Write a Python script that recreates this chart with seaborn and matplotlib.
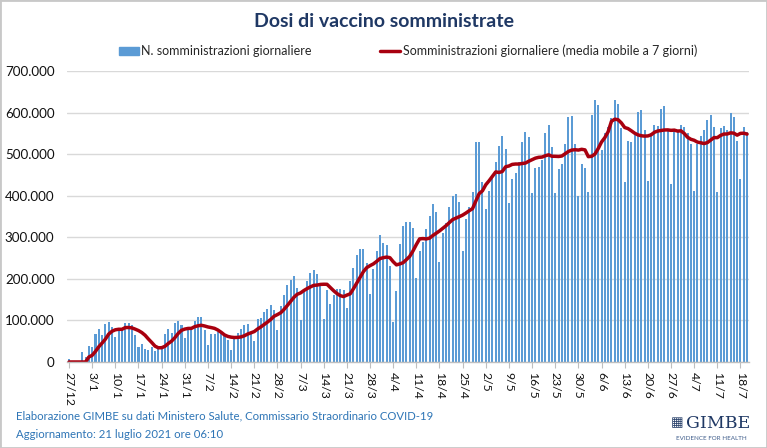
import matplotlib
matplotlib.use("Agg")
import matplotlib.pyplot as plt
import matplotlib.patches as mpatches
from matplotlib.lines import Line2D
import pandas as pd
import seaborn as sns

# dosi giornaliere in migliaia, dal 27/12/2020 al 20/7/2021 (una riga = una settimana, dom-sab)
dosi_migliaia = [
    7, 1, 1, 1, 25, 11, 38,
    35, 67, 79, 64, 91, 96, 85,
    60, 76, 78, 93, 93, 89, 64,
    36, 43, 32, 30, 35, 27, 36,
    37, 67, 79, 70, 93, 98, 89,
    58, 78, 80, 99, 107, 107, 77,
    42, 67, 67, 71, 69, 63, 52,
    29, 61, 69, 79, 88, 92, 73,
    50, 104, 105, 120, 128, 137, 126,
    78, 135, 161, 186, 197, 206, 177,
    101, 175, 194, 215, 222, 211, 188,
    104, 174, 139, 162, 175, 175, 172,
    129, 195, 226, 257, 271, 271, 239,
    163, 224, 268, 305, 286, 281, 230,
    95, 170, 284, 326, 337, 336, 322,
    202, 266, 289, 320, 350, 380, 360,
    241, 310, 334, 373, 400, 404, 385,
    267, 345, 373, 408, 529, 528, 432,
    369, 412, 448, 482, 520, 544, 512,
    382, 439, 454, 482, 528, 553, 542,
    407, 466, 468, 486, 550, 569, 518,
    406, 463, 476, 524, 589, 592, 524,
    400, 476, 466, 410, 595, 630, 617,
    510, 550, 565, 586, 630, 621, 563,
    433, 532, 528, 546, 601, 606, 557,
    436, 551, 571, 567, 609, 615, 559,
    428, 555, 555, 571, 565, 551, 525,
    411, 524, 544, 558, 581, 594, 566,
    410, 562, 567, 559, 600, 589, 532,
    440, 565, 552,
]

etichette_x = ["27/12", "3/1", "10/1", "17/1", "24/1", "31/1", "7/2", "14/2",
               "21/2", "28/2", "7/3", "14/3", "21/3", "28/3", "4/4", "11/4",
               "18/4", "25/4", "2/5", "9/5", "16/5", "23/5", "30/5", "6/6",
               "13/6", "20/6", "27/6", "4/7", "11/7", "18/7"]

tick_y = [0, 100000, 200000, 300000, 400000, 500000, 600000, 700000]

df = pd.DataFrame({"giorno": range(len(dosi_migliaia)),
                   "dosi": [v * 1000 for v in dosi_migliaia]})
# media mobile a 7 giorni (0 prima della prima settimana completa)
df["media"] = df["dosi"].rolling(7).mean().fillna(0)

sns.set_theme(style="white")
plt.rcParams["font.family"] = ["Lato", "DejaVu Sans"]

BLU = "#5B9BD5"
ROSSO = "#A8000F"
NAVY = "#1F3864"

fig = plt.figure(figsize=(7.67, 4.48), dpi=100)
ax = fig.add_axes([0.0874, 0.192, 0.8892, 0.6496])

sns.barplot(data=df, x="giorno", y="dosi", color=BLU, saturation=1,
            width=0.62, linewidth=0, ax=ax)
sns.lineplot(data=df, x="giorno", y="media", color=ROSSO, linewidth=2.5, ax=ax)

ax.set_xlim(-0.6, len(dosi_migliaia) - 0.4)
ax.set_ylim(0, 700000)
ax.set_yticks(tick_y)
ax.set_yticklabels([f"{v:,.0f}".replace(",", ".") for v in tick_y], fontsize=9.6)
ax.set_xticks(range(0, len(etichette_x) * 7, 7))
ax.set_xticklabels(etichette_x, rotation=-90, fontsize=8.8, va="top", ha="center")
ax.tick_params(axis="y", length=0, pad=9, colors="#111111")
ax.tick_params(axis="x", length=4, width=0.8, pad=3, colors="#111111", bottom=True)
ax.xaxis.set_tick_params(color="#BFBFBF")
ax.set_xlabel("")
ax.set_ylabel("")
ax.grid(axis="y", color="#D9D9D9", linewidth=1)
ax.set_axisbelow(True)
for s in ["top", "right", "left"]:
    ax.spines[s].set_visible(False)
ax.spines["bottom"].set_color("#BFBFBF")
ax.spines["bottom"].set_linewidth(1)

fig.text(0.5, 0.951, "Dosi di vaccino somministrate", ha="center", va="center",
         fontsize=14, fontweight="bold", color=NAVY)

maniglie = [mpatches.Patch(color=BLU),
            Line2D([0], [0], color=ROSSO, linewidth=2.5)]
fig.legend(maniglie, ["N. somministrazioni giornaliere",
                      "Somministrazioni giornaliere (media mobile a 7 giorni)"],
           loc="center", bbox_to_anchor=(0.532, 0.886), ncol=2, frameon=False,
           fontsize=9, columnspacing=5.5, handlelength=1.6, handletextpad=0.2)

fig.text(16 / 767, 1 - 416 / 448,
         "Elaborazione GIMBE su dati Ministero Salute, Commissario Straordinario COVID-19",
         ha="left", va="center", fontsize=8.2, color="#2E75B6")
fig.text(16 / 767, 1 - 434 / 448, "Aggiornamento: 21 luglio 2021 ore 06:10",
         ha="left", va="center", fontsize=8.2, color="#2E75B6")

# logo GIMBE
fig.text(671 / 767, 1 - 423 / 448, "\u25A6", ha="left", va="center", fontsize=9.5,
         color=NAVY, family="DejaVu Sans")
fig.text(686 / 767, 1 - 423 / 448, "GIMBE", ha="left", va="center", fontsize=12.5,
         color=NAVY, family="DejaVu Serif")
fig.text(711 / 767, 1 - 438 / 448, "EVIDENCE FOR HEALTH", ha="center", va="center",
         fontsize=4.5, color="#3E5C8A")

fig.patches.append(mpatches.Rectangle((0, 0), 1, 1, transform=fig.transFigure,
                                      fill=False, edgecolor="#C8C8C8", linewidth=2))

fig.savefig("out.png", dpi=100)
